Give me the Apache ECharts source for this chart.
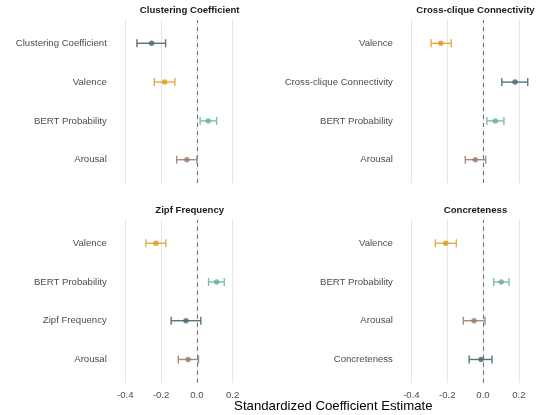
<!DOCTYPE html>
<html>
<head>
<meta charset="utf-8">
<script src="https://cdn.jsdelivr.net/npm/echarts@6/dist/echarts.min.js"></script>
<style>
  html, body { margin: 0; padding: 0; background: #fff; }
  #chart { width: 538px; height: 415px; }
</style>
</head>
<body>
<div id="chart"></div>
<script>
// ---- Data (predictors listed top to bottom within each panel) ----
const panelTitles = ["Clustering Coefficient", "Cross-clique Connectivity", "Zipf Frequency", "Concreteness"];

const ccPredictors = ["Clustering Coefficient", "Valence", "BERT Probability", "Arousal"];
const ccEstimate   = [-0.253, -0.180, 0.063, -0.056];
const ccLower      = [-0.335, -0.238, 0.018, -0.113];
const ccUpper      = [-0.175, -0.123, 0.110, 0.000];

const xcPredictors = ["Valence", "Cross-clique Connectivity", "BERT Probability", "Arousal"];
const xcEstimate   = [-0.236, 0.179, 0.069, -0.043];
const xcLower      = [-0.290, 0.105, 0.022, -0.099];
const xcUpper      = [-0.178, 0.250, 0.117, 0.015];

const zfPredictors = ["Valence", "BERT Probability", "Zipf Frequency", "Arousal"];
const zfEstimate   = [-0.229, 0.110, -0.061, -0.049];
const zfLower      = [-0.285, 0.065, -0.144, -0.104];
const zfUpper      = [-0.173, 0.153, 0.022, 0.009];

const coPredictors = ["Valence", "BERT Probability", "Arousal", "Concreteness"];
const coEstimate   = [-0.208, 0.102, -0.050, -0.011];
const coLower      = [-0.266, 0.060, -0.110, -0.077];
const coUpper      = [-0.149, 0.145, 0.011, 0.050];

const xTicks = [-0.4, -0.2, 0.0, 0.2];
const xTitle = "Standardized Coefficient Estimate";

// ---- Styles ----
const pointColor = { valence: "#E09A1F", bert: "#67B0A0", arousal: "#997A6D", focal: "#4B6670" };
const barColor   = { valence: "#E7AC45", bert: "#7CBDAE", arousal: "#A88D81", focal: "#5A737C" };
function kind(name, focal) {
  if (name === focal) return "focal";
  if (name === "Valence") return "valence";
  if (name === "BERT Probability") return "bert";
  if (name === "Arousal") return "arousal";
  return "focal";
}

const panels = [
  { title: panelTitles[0], cats: ccPredictors, est: ccEstimate, lo: ccLower, hi: ccUpper },
  { title: panelTitles[1], cats: xcPredictors, est: xcEstimate, lo: xcLower, hi: xcUpper },
  { title: panelTitles[2], cats: zfPredictors, est: zfEstimate, lo: zfLower, hi: zfUpper },
  { title: panelTitles[3], cats: coPredictors, est: coEstimate, lo: coLower, hi: coUpper }
];

const FONT = "Liberation Sans, Arial, Helvetica, sans-serif";
const PX_PER_UNIT = 179;
const gridLeft = [125.3, 411.4, 125.3, 411.4];
const gridTop = [20, 20, 220, 220];
const xMax = [0.4, 0.3, 0.4, 0.3];
const gridH = [163, 163, 162.7, 162.7];
const titleX = [189.7, 475.5, 189.7, 475.5];
const titleY = [10.7, 10.7, 210, 210];

const grids = [], xAxes = [], yAxes = [], series = [], graphics = [];

panels.forEach((p, i) => {
  const n = p.cats.length;
  const yOf = j => n - j;
  const w = (xMax[i] + 0.4) * PX_PER_UNIT;
  grids.push({ left: gridLeft[i], top: gridTop[i], width: w, height: gridH[i], containLabel: false });
  xAxes.push({
    type: "value", gridIndex: i, min: -0.4, max: xMax[i], interval: 0.2,
    axisLine: { show: false }, axisTick: { show: false },
    axisLabel: {
      show: i >= 2, showMaxLabel: false, margin: 7.5,
      color: "#4D4D4D", fontSize: 9.6, fontFamily: FONT,
      formatter: v => (Math.abs(v) < 1e-9 ? 0 : v).toFixed(1)
    },
    splitLine: {
      show: true, showMaxLine: false,
      lineStyle: { color: ["#E6E6E6", "#E6E6E6", "#E6E6E6", "#E6E6E6", "rgba(0,0,0,0)"], width: 1 }
    }
  });
  yAxes.push({
    type: "value", gridIndex: i, min: 0.4, max: 4.6,
    axisLine: { show: false }, axisTick: { show: false }, splitLine: { show: false },
    axisLabel: {
      customValues: [1, 2, 3, 4], margin: 18.5,
      color: "#4D4D4D", fontSize: 9.6, fontFamily: FONT,
      formatter: v => { const k = n - Math.round(v); return p.cats[k] || ""; }
    }
  });
  const focal = p.title;
  const barData = p.cats.map((c, j) => ({ value: [p.lo[j], p.hi[j], yOf(j)], color: barColor[kind(c, focal)] }));
  series.push({
    type: "custom", xAxisIndex: i, yAxisIndex: i, z: 3,
    data: barData.map(d => d.value),
    renderItem: (params, api) => {
      const d = barData[params.dataIndex];
      const a = api.coord([api.value(0), api.value(2)]);
      const b = api.coord([api.value(1), api.value(2)]);
      const h = 4;
      const st = { stroke: d.color, lineWidth: 1.4 };
      return {
        type: "group",
        children: [
          { type: "line", shape: { x1: a[0], y1: a[1], x2: b[0], y2: b[1] }, style: st },
          { type: "line", shape: { x1: a[0], y1: a[1] - h, x2: a[0], y2: a[1] + h }, style: st },
          { type: "line", shape: { x1: b[0], y1: b[1] - h, x2: b[0], y2: b[1] + h }, style: st }
        ]
      };
    },
    markLine: {
      silent: true, symbol: ["none", "none"], label: { show: false },
      lineStyle: { color: "#6E6E6E", type: [4, 4], width: 1.1 },
      data: [{ xAxis: 0 }], z: 2
    }
  });
  series.push({
    type: "scatter", xAxisIndex: i, yAxisIndex: i, z: 4,
    symbol: "circle", symbolSize: 5.5, clip: false,
    data: p.cats.map((c, j) => ({ value: [p.est[j], yOf(j)], itemStyle: { color: pointColor[kind(c, focal)] } }))
  });
  graphics.push({
    type: "text", x: titleX[i], y: titleY[i],
    style: { text: p.title, fill: "#1A1A1A", font: "bold 9.6px " + FONT, textAlign: "center", textVerticalAlign: "middle" }
  });
});

graphics.push({
  type: "text", x: 333.3, y: 406.7,
  style: { text: xTitle, fill: "#000", font: "13.2px " + FONT, textAlign: "center", textVerticalAlign: "middle" }
});

const chart = echarts.init(document.getElementById("chart"), null, { renderer: "canvas" });
chart.setOption({
  animation: false,
  backgroundColor: "#fff",
  grid: grids, xAxis: xAxes, yAxis: yAxes, series: series,
  graphic: { elements: graphics }
});
</script>
</body>
</html>
